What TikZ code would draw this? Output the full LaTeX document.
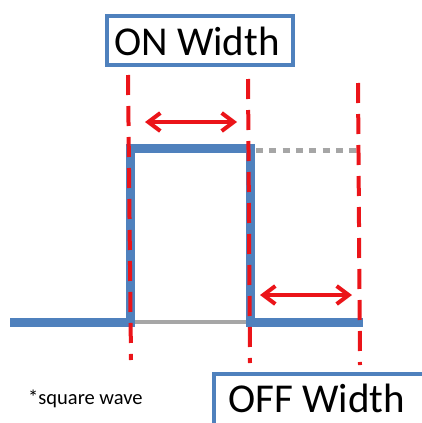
\documentclass[tikz,border=0pt]{standalone}
\usepackage{fontspec}
\setmainfont{Carlito}
\usetikzlibrary{arrows.meta}
\definecolor{wblue}{RGB}{79,129,189}
\definecolor{wred}{RGB}{235,20,25}
\definecolor{wgray}{RGB}{166,166,166}
\tikzset{
  labelbox/.style={draw=wblue, line width=4pt, fill=white, rectangle, inner sep=0pt, anchor=north west},
  bigtext/.style={font=\fontsize{41}{41}\selectfont, inner sep=0pt, anchor=base west, text=black},
  wave/.style={draw=wblue, line width=9pt, line join=miter},
  guide/.style={draw=wred, line width=4pt, dash pattern=on 20pt off 11pt},
  span/.style={draw=wred, line width=4pt, {Straight Barb[length=12pt,width=18pt,line width=4pt]}-{Straight Barb[length=12pt,width=18pt,line width=4pt]}},
  level/.style={draw=wgray, line width=4pt},
  dotlevel/.style={draw=wgray, line width=5pt, dash pattern=on 7pt off 6.3pt}
}
\begin{document}
\begin{tikzpicture}[x=1pt,y=-1pt]
\useasboundingbox (0,0) rectangle (422,423);
\clip (0,0) rectangle (422,423);
% coordinates of the square wave
\coordinate (w0) at (10,322);
\coordinate (w1) at (130,322);
\coordinate (w2) at (130,148);
\coordinate (w3) at (250,148);
\coordinate (w4) at (250,322);
\coordinate (w5) at (363,322);
\coordinate (d0) at (256,150);
\coordinate (d1) at (358,150);
% grey reference lines
\draw[level] (w1) -- (w4);
\draw[dotlevel] (d0) -- (d1);
% square wave
\draw[wave] (w0) -- (w1) -- (w2) -- (w3) -- (w4) -- (w5);
% red guides
\coordinate (g1t) at (128,75);  \coordinate (g1b) at (131,360);
\coordinate (g2t) at (248,79);  \coordinate (g2b) at (250,363);
\coordinate (g3t) at (358,83);  \coordinate (g3b) at (360,365);
\draw[guide] (g1t) -- (g1b);
\draw[guide] (g2t) -- (g2b);
\draw[guide] (g3t) -- (g3b);
% width arrows
\coordinate (a1l) at (145,122); \coordinate (a1r) at (237,122);
\coordinate (a2l) at (260,295); \coordinate (a2r) at (352,295);
\draw[span] (a1l) -- (a1r);
\draw[span] (a2l) -- (a2r);
% labels
\node[labelbox, minimum width=186pt, minimum height=49pt] (onbox) at (105,14) {};
\node[bigtext] (ontext) at (114,55) {ON Width};
\node[labelbox, minimum width=240pt, minimum height=80pt] (offbox) at (212,372) {};
\node[bigtext] (offtext) at (228,412) {OFF Width};
\node[font=\fontsize{20.5}{20.5}\selectfont, inner sep=0pt, anchor=base west] (note) at (28,404) {*square wave};
\end{tikzpicture}
\end{document}
